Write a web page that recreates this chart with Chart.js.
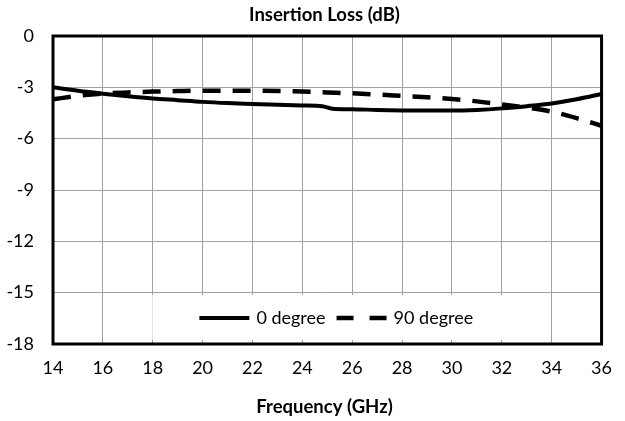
<!DOCTYPE html>
<html>
<head>
<meta charset="utf-8">
<script src="https://cdn.jsdelivr.net/npm/chart.js@4.4.1/dist/chart.umd.min.js"></script>
<style>
  html, body { margin: 0; padding: 0; background: #ffffff; }
  #wrap { width: 625px; height: 421px; }
</style>
</head>
<body>
<div id="wrap"><canvas id="c" width="625" height="421"></canvas></div>
<script>
// ---- data ----
const freq0 = [14, 15, 16, 17, 18, 19, 20, 21, 22, 23, 24, 24.8, 25.2, 26, 27, 28, 29, 30, 31, 32, 33, 34, 35, 36];
const loss0 = [-3.0, -3.2, -3.37, -3.52, -3.65, -3.75, -3.85, -3.92, -3.97, -4.02, -4.06, -4.1, -4.25, -4.28, -4.32, -4.35, -4.36, -4.36, -4.32, -4.23, -4.1, -3.94, -3.7, -3.39];
const freq90 = [14, 15, 16, 17, 18, 19, 20, 22, 24, 25, 26, 27, 28, 29, 30, 31, 32, 33, 34, 35, 36];
const loss90 = [-3.7, -3.5, -3.37, -3.3, -3.25, -3.22, -3.2, -3.2, -3.25, -3.3, -3.35, -3.42, -3.5, -3.58, -3.68, -3.82, -4.0, -4.18, -4.42, -4.8, -5.25];
const seriesLabels = ['0 degree', '90 degree'];
const xTicks = [14, 16, 18, 20, 22, 24, 26, 28, 30, 32, 34, 36];
const yTicks = [0, -3, -6, -9, -12, -15, -18];
const chartTitle = 'Insertion Loss (dB)';
const xTitle = 'Frequency (GHz)';

const FONT = 'Lato, "Open Sans", sans-serif';

const pts = (xs, ys) => xs.map((x, i) => ({ x: x, y: ys[i] }));

const borderPlugin = {
  id: 'areaBorder',
  afterDatasetsDraw(chart) {
    const a = chart.chartArea, ctx = chart.ctx;
    ctx.save();
    ctx.strokeStyle = '#000';
    ctx.lineWidth = 3;
    ctx.strokeRect(a.left, a.top, a.right - a.left, a.bottom - a.top);
    ctx.restore();
  }
};

// chart title and x-axis title, centred on the whole figure like the reference
const titlesPlugin = {
  id: 'titles',
  afterDraw(chart) {
    const ctx = chart.ctx;
    const cx = chart.width / 2 + 12;
    ctx.save();
    ctx.fillStyle = '#000';
    ctx.textAlign = 'center';
    ctx.textBaseline = 'middle';
    ctx.font = 'bold 18.5px ' + FONT;
    ctx.fillText(chartTitle, cx, 15);
    ctx.fillText(xTitle, cx, chart.height - 14);
    ctx.restore();
  }
};

const innerLegend = {
  id: 'innerLegend',
  afterDraw(chart) {
    const a = chart.chartArea, ctx = chart.ctx;
    ctx.save();
    ctx.font = '18px ' + FONT;
    const sample = 50, gapS = 7, gapItem = 11;
    const items = chart.data.datasets.map(ds => ({
      label: ds.label, color: ds.borderColor, dash: ds.legendDash || [], width: ds.borderWidth,
      tw: ctx.measureText(ds.label).width
    }));
    let total = 0;
    items.forEach((it, i) => { total += sample + gapS + it.tw + (i ? gapItem : 0); });
    const cx = (a.left + a.right) / 2;
    const cy = a.bottom - 26;
    // white box
    ctx.fillStyle = '#fff';
    ctx.fillRect(cx - 175, cy - 23, 350, 45);
    let x = cx + 9 - total / 2;
    items.forEach((it, i) => {
      if (i) x += gapItem;
      ctx.beginPath();
      ctx.setLineDash(it.dash);
      ctx.lineWidth = it.width;
      ctx.strokeStyle = it.color;
      ctx.moveTo(x, cy);
      ctx.lineTo(x + sample, cy);
      ctx.stroke();
      ctx.setLineDash([]);
      x += sample + gapS;
      ctx.fillStyle = '#000';
      ctx.textBaseline = 'middle';
      ctx.textAlign = 'left';
      ctx.fillText(it.label, x, cy);
      x += it.tw;
    });
    ctx.restore();
  }
};

new Chart(document.getElementById('c'), {
  type: 'line',
  data: {
    datasets: [
      { label: seriesLabels[0], data: pts(freq0, loss0), borderColor: '#000', borderWidth: 4, pointRadius: 0, cubicInterpolationMode: 'monotone', fill: false },
      { label: seriesLabels[1], data: pts(freq90, loss90), borderColor: '#000', borderWidth: 4.5, borderDash: [18, 12], legendDash: [17, 16], pointRadius: 0, cubicInterpolationMode: 'monotone', fill: false }
    ]
  },
  options: {
    responsive: false,
    animation: false,
    devicePixelRatio: 1,
    layout: { padding: { left: 0, right: 13, top: 36, bottom: 0 } },
    plugins: {
      legend: { display: false },
      tooltip: { enabled: false },
      title: { display: false }
    },
    scales: {
      x: {
        type: 'linear', min: 14, max: 36,
        afterBuildTicks: s => { s.ticks = xTicks.map(v => ({ value: v })); },
        afterFit: s => { s.height = 77; },
        grid: { color: '#a0a0a0', lineWidth: 1, drawTicks: false },
        border: { display: false },
        ticks: { color: '#000', font: { family: FONT, size: 18 }, padding: 13, maxRotation: 0, autoSkip: false },
        title: { display: false }
      },
      y: {
        type: 'linear', min: -18, max: 0, position: 'left',
        afterBuildTicks: s => { s.ticks = yTicks.map(v => ({ value: v })); },
        afterFit: s => { s.width = 53; },
        grid: { color: '#a0a0a0', lineWidth: 1, drawTicks: false },
        border: { display: false },
        ticks: { color: '#000', font: { family: FONT, size: 18 }, padding: 19 }
      }
    }
  },
  plugins: [borderPlugin, innerLegend, titlesPlugin]
});
</script>
</body>
</html>
